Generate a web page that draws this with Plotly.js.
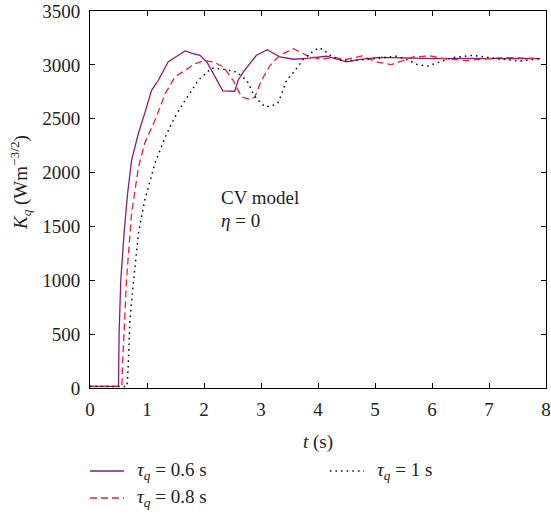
<!DOCTYPE html>
<html>
<head>
<meta charset="utf-8">
<script src="https://cdn.plot.ly/plotly-3.0.1.min.js"></script>
<style>html,body{margin:0;padding:0;background:#fff}#chart{width:551px;height:515px}</style>
</head>
<body>
<div id="chart"></div>
<script>
// tau_q = 0.6 s
const t06 = [0, 0.5, 0.51, 0.54, 0.6, 0.66, 0.73, 0.85, 0.96, 1.08, 1.2, 1.37, 1.55, 1.67, 1.78, 1.93, 2.05, 2.16, 2.33, 2.54, 2.6, 2.69, 2.8, 2.92, 3.11, 3.33, 3.57, 3.8, 4.15, 4.5, 4.74, 5.09, 5.5, 6.02, 6.5, 7.0, 7.5, 7.9];
const k06 = [15, 15, 500, 1000, 1450, 1808, 2115, 2365, 2550, 2764, 2857, 3027, 3089, 3129, 3110, 3089, 3027, 2919, 2758, 2755, 2857, 2934, 3010, 3089, 3141, 3073, 3052, 3060, 3080, 3027, 3050, 3070, 3065, 3058, 3060, 3058, 3060, 3058];
// tau_q = 0.8 s
const t08 = [0, 0.56, 0.57, 0.6, 0.64, 0.73, 0.85, 0.96, 1.14, 1.32, 1.49, 1.67, 1.84, 2.0, 2.17, 2.34, 2.51, 2.66, 2.81, 2.89, 3.01, 3.16, 3.33, 3.57, 3.8, 4.04, 4.27, 4.5, 4.77, 5.03, 5.29, 5.67, 5.96, 6.21, 6.6, 7.0, 7.31, 7.9];
const k08 = [15, 15, 200, 510, 1002, 1623, 2050, 2272, 2486, 2733, 2888, 2950, 3011, 3040, 3027, 2981, 2857, 2702, 2678, 2700, 2857, 2996, 3089, 3150, 3089, 3050, 3070, 3050, 3083, 3027, 3003, 3073, 3083, 3058, 3040, 3058, 3068, 3058];
// tau_q = 1 s
const t10 = [0, 0.65, 0.67, 0.70, 0.76, 0.85, 0.96, 1.14, 1.32, 1.49, 1.67, 1.9, 2.13, 2.34, 2.57, 2.75, 2.85, 2.92, 3.07, 3.19, 3.29, 3.33, 3.45, 3.6, 3.74, 3.92, 4.02, 4.12, 4.21, 4.44, 4.85, 5.38, 5.56, 5.73, 5.91, 6.05, 6.17, 6.37, 6.72, 7.1, 7.54, 7.9];
const k10 = [15, 15, 198, 631, 970, 1437, 1744, 2087, 2331, 2517, 2672, 2857, 2970, 2960, 2934, 2857, 2749, 2687, 2610, 2620, 2641, 2687, 2857, 2950, 3050, 3129, 3160, 3129, 3089, 3036, 3050, 3080, 3050, 3006, 2987, 3010, 3036, 3068, 3089, 3060, 3036, 3058];

const names = ['<i>τ</i><sub><i>q</i></sub> = 0.6 s', '<i>τ</i><sub><i>q</i></sub> = 0.8 s', '<i>τ</i><sub><i>q</i></sub> = 1 s'];
const xTicks = [0,1,2,3,4,5,6,7,8];
const yTicks = [0,500,1000,1500,2000,2500,3000,3500];

const serif = 'Liberation Serif, Times New Roman, serif';
const C06 = '#8b1a7c', C08 = '#f0202c', C10 = '#111111';
const D08 = '7px,4px', D10 = '1.6px,4px';
const traces = [
  {x: t06, y: k06, name: names[0], mode: 'lines', line: {color: C06, width: 1.3}},
  {x: t08, y: k08, name: names[1], mode: 'lines', line: {color: C08, width: 1.3, dash: D08}},
  {x: t10, y: k10, name: names[2], mode: 'lines', line: {color: C10, width: 1.5, dash: D10}}
];
const axisCommon = {
  showgrid: false, zeroline: false, showline: true, linecolor: '#000', linewidth: 1,
  mirror: 'ticks', ticks: 'inside', ticklen: 5, tickcolor: '#000', automargin: false,
  tickfont: {family: serif, size: 19, color: '#222'}
};
const tfont = {family: serif, size: 19, color: '#222'};
// manual legend positions (paper coords)
const legRows = [-0.2202, -0.2918, -0.2202];
const legX0 = [0, 0, 0.526];
const legX1 = [0.0746, 0.0746, 0.601];
const legTx = [0.0987, 0.0987, 0.625];
const legStyle = [{color: C06, width: 1.3}, {color: C08, width: 1.3, dash: D08}, {color: C10, width: 1.5, dash: D10}];
const shapes = names.map((n, i) => ({type: 'line', xref: 'paper', yref: 'paper', x0: legX0[i], x1: legX1[i], y0: legRows[i], y1: legRows[i], line: legStyle[i]}));
const annotations = [
  {x: 2.27, y: 1772, xref: 'x', yref: 'y', text: 'CV model', showarrow: false, xanchor: 'left', font: tfont},
  {x: 2.27, y: 1558, xref: 'x', yref: 'y', text: '<i>η</i> = 0', showarrow: false, xanchor: 'left', font: tfont},
  {x: 0.5, y: -0.143, xref: 'paper', yref: 'paper', text: '<i>t</i> (s)', showarrow: false, xanchor: 'center', yanchor: 'middle', font: tfont},
  {x: -0.151, y: 0.544, xref: 'paper', yref: 'paper', text: '<i>K</i><sub><i>q</i></sub> (Wm<sup>−3/2</sup>)', textangle: -90, showarrow: false, xanchor: 'center', yanchor: 'middle', font: tfont}
].concat(names.map((n, i) => ({x: legTx[i], y: legRows[i], xref: 'paper', yref: 'paper', text: n, showarrow: false, xanchor: 'left', yanchor: 'middle', font: tfont})));
const layout = {
  width: 551, height: 515,
  margin: {l: 90, r: 5, t: 11, b: 127},
  paper_bgcolor: '#fff', plot_bgcolor: '#fff',
  font: {family: serif, color: '#222'},
  showlegend: false,
  xaxis: Object.assign({}, axisCommon, {range: [0, 8], tickvals: xTicks, ticklabelstandoff: 4}),
  yaxis: Object.assign({}, axisCommon, {range: [0, 3500], tickvals: yTicks, ticklabelstandoff: 5}),
  shapes: shapes,
  annotations: annotations
};
Plotly.newPlot('chart', traces, layout, {displayModeBar: false, staticPlot: true});
</script>
</body>
</html>
